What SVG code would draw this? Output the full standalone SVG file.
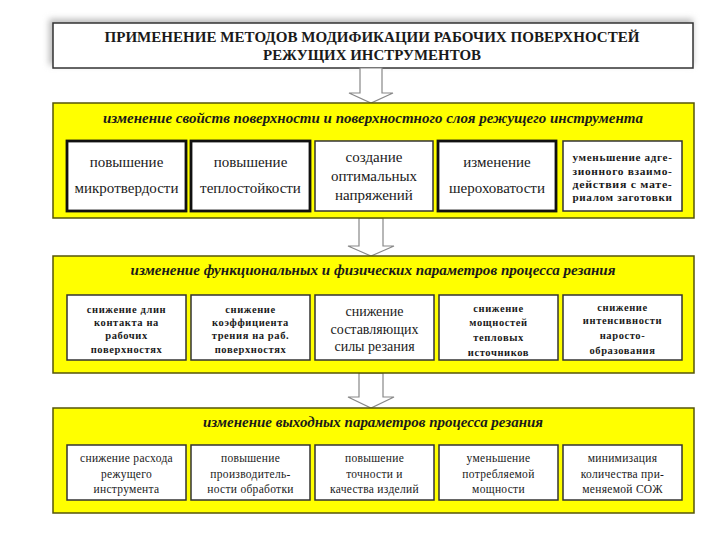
<svg xmlns="http://www.w3.org/2000/svg" width="720" height="540" viewBox="0 0 720 540" font-family="'Liberation Serif', 'DejaVu Serif', serif">
<defs>
<filter id="sh" x="-5%" y="-30%" width="110%" height="160%"><feGaussianBlur stdDeviation="3"/></filter>
<style>
text{font-family:'Liberation Serif','DejaVu Serif',serif}
.t{fill:#1a1a1a;text-anchor:middle}
.hd{font-weight:bold;font-size:14px}
.ph{font-weight:bold;font-style:italic;font-size:14.5px}
.big{font-size:15px}
.mid{font-size:14px}
.sm{font-size:10.5px;font-weight:bold;letter-spacing:0.6px}
.r3{font-size:11.5px;letter-spacing:0.3px}
.panel{fill:#ffff00;stroke:#55550a;stroke-width:1.5}
.box{fill:#ffffff;stroke:#333;stroke-width:1.5}
.thick{fill:#ffffff;stroke:#111;stroke-width:2.8}
.arr{fill:#ffffff;stroke:#888;stroke-width:1.2}
</style>
</defs>
<rect width="720" height="540" fill="#ffffff"/>

<g id="title">
<rect x="49" y="19" width="644" height="46" fill="#bbb" filter="url(#sh)"/>
<rect x="53" y="23" width="640" height="45" fill="#ffffff" stroke="#333" stroke-width="1.5"/>
<text class="t hd" x="372" y="42" textLength="535" lengthAdjust="spacingAndGlyphs">ПРИМЕНЕНИЕ МЕТОДОВ МОДИФИКАЦИИ РАБОЧИХ ПОВЕРХНОСТЕЙ</text>
<text class="t hd" x="372" y="60" textLength="218" lengthAdjust="spacingAndGlyphs">РЕЖУЩИХ ИНСТРУМЕНТОВ</text>
</g>

<g id="connectors">
<polygon class="arr" points="360,68 382,68 382,93 393,93 371,103 349,93 360,93"/>
<polygon class="arr" points="359,218 383,218 383,246 394,246 371,256 348,246 359,246"/>
<polygon class="arr" points="359,373 383,373 383,397 394,397 371,408 348,397 359,397"/>
</g>

<g id="panel1">
<rect class="panel" x="53" y="103" width="641" height="115"/>
<text class="t ph" x="373" y="123" textLength="540" lengthAdjust="spacingAndGlyphs">изменение свойств поверхности и поверхностного слоя режущего инструмента</text>
</g>
<g id="p1b1"><rect class="thick" x="67" y="141" width="119" height="70"/>
<text class="t big" x="126.5" y="167">повышение</text><text class="t big" x="126.5" y="193">микротвердости</text></g>
<g id="p1b2"><rect class="thick" x="191" y="141" width="119" height="70"/>
<text class="t big" x="250.5" y="167">повышение</text><text class="t big" x="250.5" y="193">теплостойкости</text></g>
<g id="p1b3"><rect class="box" x="315" y="141" width="118" height="70"/>
<text class="t big" x="374" y="162">создание</text><text class="t big" x="374" y="181">оптимальных</text><text class="t big" x="374" y="200">напряжений</text></g>
<g id="p1b4"><rect class="thick" x="438" y="141" width="118" height="70"/>
<text class="t big" x="497" y="167">изменение</text><text class="t big" x="497" y="193">шероховатости</text></g>
<g id="p1b5"><rect class="box" x="563" y="141" width="119" height="70"/>
<text class="t sm" x="622.5" y="161" textLength="100" lengthAdjust="spacingAndGlyphs">уменьшение адге-</text>
<text class="t sm" x="622.5" y="175" textLength="100" lengthAdjust="spacingAndGlyphs">зионного взаимо-</text>
<text class="t sm" x="622.5" y="188" textLength="100" lengthAdjust="spacingAndGlyphs">действия с мате-</text>
<text class="t sm" x="622.5" y="201" textLength="100" lengthAdjust="spacingAndGlyphs">риалом заготовки</text></g>

<g id="panel2">
<rect class="panel" x="53" y="256" width="641" height="117"/>
<text class="t ph" x="373" y="275" textLength="485" lengthAdjust="spacingAndGlyphs">изменение функциональных и физических параметров процесса резания</text>
</g>
<g id="p2b1"><rect class="box" x="67" y="295" width="119" height="65"/>
<text class="t sm" x="126.5" y="313">снижение длин</text><text class="t sm" x="126.5" y="326">контакта на</text><text class="t sm" x="126.5" y="339">рабочих</text><text class="t sm" x="126.5" y="353">поверхностях</text></g>
<g id="p2b2"><rect class="box" x="191" y="295" width="119" height="65"/>
<text class="t sm" x="250.5" y="313">снижение</text><text class="t sm" x="250.5" y="326">коэффициента</text><text class="t sm" x="250.5" y="339">трения на раб.</text><text class="t sm" x="250.5" y="353">поверхностях</text></g>
<g id="p2b3"><rect class="box" x="315" y="295" width="119" height="65"/>
<text class="t mid" x="374.5" y="316">снижение</text><text class="t mid" x="374.5" y="334">составляющих</text><text class="t mid" x="374.5" y="351">силы резания</text></g>
<g id="p2b4"><rect class="box" x="439" y="295" width="119" height="65"/>
<text class="t sm" x="498.5" y="312">снижение</text><text class="t sm" x="498.5" y="326">мощностей</text><text class="t sm" x="498.5" y="341">тепловых</text><text class="t sm" x="498.5" y="356">источников</text></g>
<g id="p2b5"><rect class="box" x="563" y="295" width="119" height="65"/>
<text class="t sm" x="622.5" y="311">снижение</text><text class="t sm" x="622.5" y="324">интенсивности</text><text class="t sm" x="622.5" y="339">наросто-</text><text class="t sm" x="622.5" y="354">образования</text></g>

<g id="panel3">
<rect class="panel" x="53" y="408" width="641" height="105"/>
<text class="t ph" x="373" y="427" textLength="340" lengthAdjust="spacingAndGlyphs">изменение выходных параметров процесса резания</text>
</g>
<g id="p3b1"><rect class="box" x="67" y="445" width="119" height="55"/>
<text class="t r3" x="126.5" y="462">снижение расхода</text><text class="t r3" x="126.5" y="478">режущего</text><text class="t r3" x="126.5" y="493">инструмента</text></g>
<g id="p3b2"><rect class="box" x="191" y="445" width="119" height="55"/>
<text class="t r3" x="250.5" y="462">повышение</text><text class="t r3" x="250.5" y="478">производитель-</text><text class="t r3" x="250.5" y="493">ности обработки</text></g>
<g id="p3b3"><rect class="box" x="315" y="445" width="119" height="55"/>
<text class="t r3" x="374.5" y="462">повышение</text><text class="t r3" x="374.5" y="478">точности и</text><text class="t r3" x="374.5" y="493">качества изделий</text></g>
<g id="p3b4"><rect class="box" x="439" y="445" width="119" height="55"/>
<text class="t r3" x="498.5" y="462">уменьшение</text><text class="t r3" x="498.5" y="478">потребляемой</text><text class="t r3" x="498.5" y="493">мощности</text></g>
<g id="p3b5"><rect class="box" x="563" y="445" width="119" height="55"/>
<text class="t r3" x="622.5" y="462">минимизация</text><text class="t r3" x="622.5" y="478">количества при-</text><text class="t r3" x="622.5" y="493">меняемой СОЖ</text></g>
</svg>
